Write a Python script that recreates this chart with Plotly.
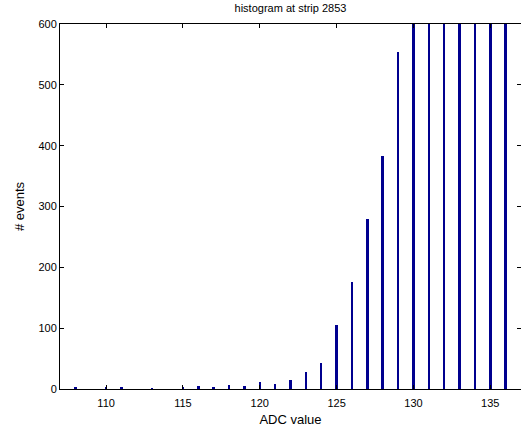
import plotly.graph_objects as go

adc_values = [108, 110, 111, 113, 115, 116, 117, 118, 119, 120, 121, 122, 123, 124,
              125, 126, 127, 128, 129, 130, 131, 132, 133, 134, 135, 136]
event_counts = [2, 3, 2, 1, 2, 5, 4, 6, 5, 12, 8, 15, 28, 43,
                105, 176, 280, 383, 554, 720, 860, 930, 900, 820, 720, 650]

x_ticks = [110, 115, 120, 125, 130, 135]
y_ticks = [0, 100, 200, 300, 400, 500, 600]

fig = go.Figure(go.Bar(
    x=adc_values, y=event_counts, width=0.16,
    marker=dict(color="#00008F", line=dict(width=0)),
))

font = dict(family="Liberation Sans, Arial, sans-serif", size=11, color="black")
fig.update_layout(
    width=521, height=436,
    margin=dict(l=60, r=0, t=24, b=47),
    paper_bgcolor="white", plot_bgcolor="white",
    font=font, showlegend=False,
    title=dict(text="histogram at strip 2853", x=(60 + 521) / 2 / 521, xanchor="center",
               y=1 - 8 / 436, yanchor="middle", font=dict(size=11)),
    bargap=0,
)
fig.update_xaxes(
    range=[107, 137], tickvals=x_ticks, ticks="inside", ticklen=4, tickcolor="black",
    showline=True, linecolor="black", linewidth=1, mirror="ticks", showgrid=False,
    zeroline=False, ticklabelstandoff=4, title=dict(text="ADC value", standoff=6),
)
fig.update_yaxes(
    range=[0, 600], tickvals=y_ticks, ticks="inside", ticklen=4, tickcolor="black",
    showline=True, linecolor="black", linewidth=1, mirror="ticks", showgrid=False,
    zeroline=False, title=dict(text="# events", standoff=10),
)

fig.write_html("out.html")
